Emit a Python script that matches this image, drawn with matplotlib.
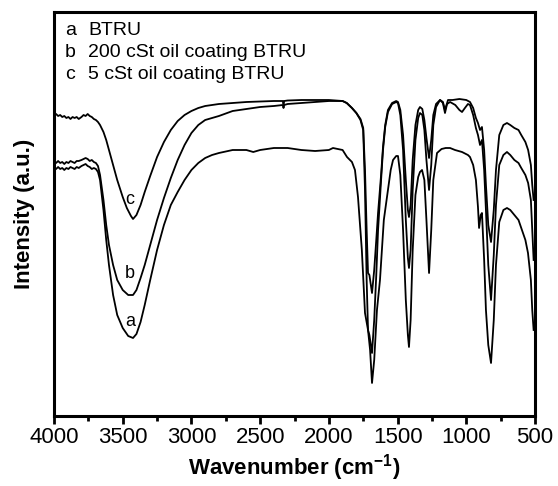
import matplotlib
matplotlib.use("Agg")
import matplotlib.pyplot as plt
from matplotlib.ticker import MultipleLocator

# FTIR spectra (wavenumber in cm-1, intensity in a.u.)
wn_a = [4000, 3985, 3970, 3955, 3940, 3925, 3910, 3895, 3880, 3865, 3850, 3835,
        3820, 3800, 3785, 3770, 3755, 3740, 3725, 3710, 3695, 3680, 3665, 3640,
        3620, 3600, 3570, 3540, 3500, 3460, 3425, 3400, 3370, 3340, 3300, 3250,
        3200, 3150, 3100, 3050, 3000, 2950, 2900, 2850, 2800, 2700, 2600, 2550,
        2500, 2400, 2300, 2200, 2100, 2000, 1970, 1900, 1868, 1832, 1810, 1788,
        1760, 1737, 1715, 1700, 1686, 1670, 1650, 1628, 1600, 1577, 1550, 1533,
        1510, 1497, 1480, 1460, 1440, 1425, 1417, 1405, 1390, 1370, 1350, 1337,
        1322, 1305, 1290, 1271, 1255, 1240, 1213, 1180, 1150, 1118, 1082, 1031,
        988, 973, 950, 930, 915, 907, 895, 886, 870, 857, 840, 820, 800, 784,
        760, 730, 704, 680, 650, 620, 600, 570, 551, 530, 520, 510]
int_a = [248, 247, 249, 247, 248, 246, 248, 247, 249, 248, 247, 249,
         248, 250, 251, 252, 250, 249, 247, 248, 247, 244, 236, 206,
         176, 151, 121, 101, 88, 80, 78, 82, 94, 111, 136, 166,
         191, 211, 224, 236, 246, 253, 258, 261, 263, 266, 266, 264,
         266, 268, 268, 266, 265, 266, 268, 266, 259, 254, 246, 219,
         166, 103, 86, 66, 33, 56, 106, 136, 196, 219, 246, 256,
         260, 260, 241, 186, 116, 81, 69, 96, 166, 221, 239, 244,
         246, 236, 196, 143, 186, 236, 263, 267, 268, 268, 266, 264,
         261, 259, 251, 236, 209, 188, 201, 203, 156, 106, 71, 53, 96, 151,
         194, 206, 208, 206, 201, 196, 188, 176, 163, 136, 106, 86]

wn_b = [4000, 3985, 3970, 3955, 3940, 3925, 3910, 3895, 3880, 3865, 3850, 3835,
        3820, 3800, 3785, 3770, 3755, 3740, 3725, 3710, 3695, 3680, 3665, 3640,
        3620, 3600, 3570, 3540, 3500, 3460, 3425, 3400, 3370, 3340, 3300, 3250,
        3200, 3150, 3100, 3050, 3000, 2950, 2900, 2800, 2700, 2600, 2500, 2400,
        2335, 2330, 2325, 2300, 2200, 2100, 2000, 1900, 1870, 1832, 1800, 1770,
        1750, 1737, 1725, 1715, 1705, 1686, 1670, 1655, 1642, 1620, 1606, 1590,
        1570, 1540, 1510, 1497, 1480, 1460, 1440, 1425, 1417, 1405, 1390, 1370,
        1350, 1337, 1320, 1305, 1290, 1271, 1255, 1240, 1220, 1191, 1170, 1155,
        1140, 1118, 1080, 1050, 1031, 1010, 988, 973, 950, 930, 915, 900, 886,
        870, 857, 840, 820, 800, 784, 760, 730, 704, 680, 650, 620, 600, 570,
        550, 530, 520, 510]
int_b = [254, 253, 255, 253, 254, 252, 254, 253, 255, 254, 253, 255,
         255, 256, 257, 258, 257, 255, 256, 254, 253, 250, 241, 216,
         191, 171, 151, 136, 126, 121, 121, 126, 138, 151, 171, 196,
         218, 238, 256, 271, 283, 291, 296, 300, 305, 307, 309, 310,
         311, 308, 311, 312, 313, 314, 315, 315, 313, 308, 303, 296,
         286, 226, 136, 86, 81, 63, 96, 141, 186, 236, 266, 289,
         304, 312, 314, 313, 301, 266, 196, 158, 148, 166, 226, 276,
         298, 303, 301, 286, 256, 226, 251, 291, 309, 316, 313, 303,
         312, 314, 311, 306, 304, 308, 312, 311, 301, 288, 281, 271, 276,
         246, 206, 151, 116, 161, 211, 251, 261, 264, 261, 256, 253, 248, 241,
         233, 216, 186, 156]

wn_c = [4000, 3985, 3970, 3955, 3940, 3925, 3910, 3895, 3880, 3865, 3850, 3835,
        3820, 3800, 3785, 3770, 3755, 3740, 3725, 3710, 3695, 3680, 3665, 3640,
        3620, 3600, 3570, 3540, 3500, 3470, 3440, 3425, 3400, 3370, 3340, 3300,
        3250, 3200, 3150, 3100, 3050, 3000, 2950, 2900, 2800, 2700, 2600, 2500,
        2400, 2335, 2330, 2325, 2300, 2200, 2100, 2000, 1900, 1870, 1832, 1800,
        1770, 1750, 1737, 1725, 1715, 1705, 1686, 1670, 1655, 1642, 1620, 1606,
        1590, 1570, 1540, 1510, 1497, 1480, 1460, 1440, 1425, 1417, 1405, 1390,
        1370, 1350, 1337, 1320, 1305, 1290, 1271, 1255, 1240, 1220, 1191, 1170,
        1155, 1133, 1100, 1050, 1000, 973, 950, 930, 915, 900, 886, 870, 857,
        840, 820, 800, 784, 760, 730, 704, 680, 650, 620, 600, 570, 550, 530,
        520, 510]
int_c = [301, 302, 300, 301, 299, 300, 298, 299, 297, 299, 298, 299,
         297, 299, 301, 300, 302, 300, 299, 297, 296, 294, 291, 284,
         276, 266, 251, 236, 219, 208, 200, 197, 201, 211, 224, 240,
         259, 274, 286, 295, 301, 305, 308, 310, 312, 313, 314, 314.5,
         315, 315, 312, 315, 315.5, 316, 316, 316, 315, 313, 308, 303,
         297, 288, 246, 186, 143, 141, 123, 146, 176, 203, 241, 269,
         291, 306, 313, 315, 314, 306, 281, 236, 206, 199, 211, 256,
         291, 306, 309, 307, 296, 278, 258, 276, 301, 312, 316, 314,
         306, 316, 316, 317, 316, 314, 308, 298, 293, 286, 289, 266, 231,
         191, 174, 206, 246, 281, 291, 293, 291, 288, 286, 281, 274, 266, 251,
         231, 216]

curve_labels = ["a", "b", "c"]
label_wn = [3447, 3447, 3447]
label_int = [94, 143, 216]
legend_names = ["BTRU", "200 cSt oil coating BTRU", "5 cSt oil coating BTRU"]

x_ticks = [4000, 3500, 3000, 2500, 2000, 1500, 1000, 500]

plt.rcParams['font.family'] = ['Liberation Sans', 'DejaVu Sans']
plt.rcParams['mathtext.default'] = 'regular'

fig = plt.figure(figsize=(5.58, 4.86), dpi=100)
ax = fig.add_axes([54 / 558, 1 - 416 / 486, 481 / 558, 404 / 486])

for wn, inten in [(wn_a, int_a), (wn_b, int_b), (wn_c, int_c)]:
    ax.plot(wn, inten, color='black', lw=1.3)

for lab, x, y in zip(curve_labels, label_wn, label_int):
    ax.text(x, y, lab, fontsize=13, ha='center', va='center')

# legend-like text block in the upper left
for i, (lab, name) in enumerate(zip(curve_labels, legend_names)):
    y = 0.955 - i * 0.0545
    ax.text(0.023, y, lab, fontsize=14, transform=ax.transAxes, va='center')
    ax.text(0.071, y, name, fontsize=14, transform=ax.transAxes, va='center')

ax.set_xlim(4000, 500)
ax.set_ylim(0, 404)
ax.set_xticks(x_ticks)
ax.xaxis.set_minor_locator(MultipleLocator(250))
ax.set_yticks([])
ax.tick_params(axis='x', which='major', direction='out', length=6, width=2,
               labelsize=16, pad=2)
ax.tick_params(axis='x', which='minor', direction='out', length=3.5, width=2)
for s in ax.spines.values():
    s.set_linewidth(2.2)

ax.set_xlabel('Wavenumber (cm$^{-1}$)', fontsize=16, fontweight='bold', labelpad=3)
ax.set_ylabel('Intensity (a.u.)', fontsize=16, fontweight='bold', labelpad=14)

fig.savefig('out.png', dpi=100)
